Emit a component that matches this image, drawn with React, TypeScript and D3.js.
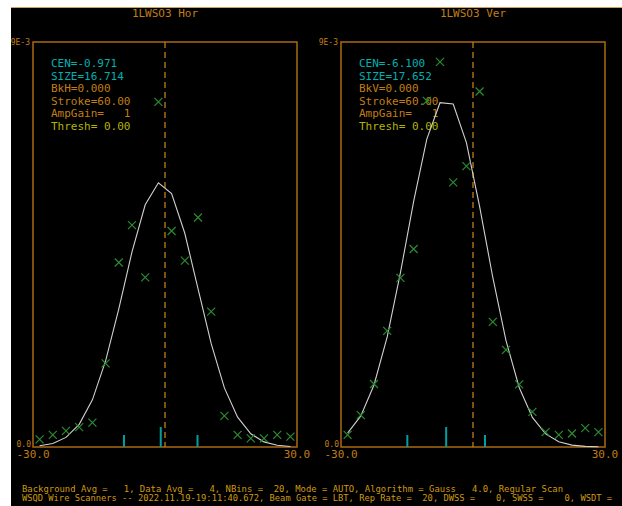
import React, { useEffect, useRef } from "react";
import * as d3 from "d3";

// bin centres, NBins = 20 over -30..30
const binX = [-28.5, -25.5, -22.5, -19.5, -16.5, -13.5, -10.5, -7.5, -4.5, -1.5,
  1.5, 4.5, 7.5, 10.5, 13.5, 16.5, 19.5, 22.5, 25.5, 28.5];

const horCounts = [0.00017, 0.00027, 0.00036, 0.00044, 0.00054, 0.00186, 0.0041, 0.00493, 0.00377, 0.00767,
  0.0048, 0.00414, 0.0051, 0.00301, 0.00069, 0.00027, 0.00019, 0.00019, 0.00027, 0.00023];
const horFit = [0.000026, 0.000079, 0.000213, 0.000504, 0.001047, 0.001913, 0.003072, 0.004337, 0.005383, 0.005873,
  0.005633, 0.00475, 0.003521, 0.002295, 0.001314, 0.000662, 0.000293, 0.000114, 0.000039, 0.000012];

const verCounts = [0.00027, 0.00071, 0.0014, 0.00258, 0.00376, 0.0044, 0.00769, 0.00856, 0.00588, 0.00624,
  0.0079, 0.00278, 0.00216, 0.00139, 0.00078, 0.00033, 0.00027, 0.0003, 0.00042, 0.00033];
const verFit = [0.00031, 0.000692, 0.001378, 0.002447, 0.00387, 0.005451, 0.006842, 0.007651, 0.007622, 0.006764,
  0.005348, 0.003767, 0.002364, 0.001322, 0.000658, 0.000292, 0.000116, 0.000041, 0.000013, 0.000004];

const horStats = ["CEN=-0.971", "SIZE=16.714", "BkH=0.000", "Stroke=60.00", "AmpGain=   1", "Thresh= 0.00"];
const verStats = ["CEN=-6.100", "SIZE=17.652", "BkV=0.000", "Stroke=60.00", "AmpGain=   1", "Thresh= 0.00"];
const horCen = -0.971, horSize = 16.714;
const verCen = -6.1, verSize = 17.652;

const xTicks = ["-30.0", "30.0"];
const yTicks = ["0.0", "9E-3"];

const footer = [
  "Background Avg =   1, Data Avg =   4, NBins =  20, Mode = AUTO, Algorithm = Gauss   4.0, Regular Scan",
  "WSQD Wire Scanners -- 2022.11.19-19:11:40.672, Beam Gate = LBT, Rep Rate =  20, DWSS =    0, SWSS =    0, WSDT =",
];

const ORANGE = "#c07e14";
const FRAME = "#a86a12";
const CYAN = "#00b0b0";
const YELLOW = "#b4b400";
const statColors = [CYAN, CYAN, ORANGE, ORANGE, ORANGE, YELLOW];
const MONO = "'DejaVu Sans Mono', monospace";

export default function App() {
  const node = useRef<SVGSVGElement>(null);

  useEffect(() => {
    const svg = d3.select(node.current);
    svg.selectAll("*").remove();

    svg.append("rect").attr("width", 622).attr("height", 506).attr("fill", "#fff");
    svg.append("rect").attr("x", 11).attr("y", 8).attr("width", 611).attr("height", 498).attr("fill", "#000");
    svg.append("line").attr("x1", 11).attr("x2", 622).attr("y1", 7.5).attr("y2", 7.5)
      .attr("stroke", "#d0a060").attr("stroke-width", 1);

    const panels = [
      { title: "1LWSO3 Hor", left: 33, counts: horCounts, fit: horFit, stats: horStats, cen: horCen, size: horSize },
      { title: "1LWSO3 Ver", left: 341, counts: verCounts, fit: verFit, stats: verStats, cen: verCen, size: verSize },
    ];

    panels.forEach(p => {
      const x = d3.scaleLinear().domain([-30, 30]).range([p.left, p.left + 264]);
      const y = d3.scaleLinear().domain([0, 9e-3]).range([447, 42]);
      const g = svg.append("g");

      g.append("text").attr("x", (x(-30) + x(30)) / 2).attr("y", 17)
        .attr("text-anchor", "middle").attr("fill", ORANGE)
        .attr("font-family", MONO).attr("font-size", 11).text(p.title);

      g.append("rect").attr("x", x(-30)).attr("y", y(9e-3))
        .attr("width", x(30) - x(-30)).attr("height", y(0) - y(9e-3))
        .attr("fill", "none").attr("stroke", FRAME).attr("stroke-width", 1.5);

      // y labels
      g.append("text").attr("x", x(-30) - 3).attr("y", y(9e-3) + 3).attr("text-anchor", "end")
        .attr("fill", ORANGE).attr("font-family", MONO).attr("font-size", 8).text(yTicks[1]);
      g.append("text").attr("x", x(-30) - 2).attr("y", y(0) - 0.5).attr("text-anchor", "end")
        .attr("fill", ORANGE).attr("font-family", MONO).attr("font-size", 8).text(yTicks[0]);

      // x labels
      g.selectAll("text.xt").data([-30, 30]).join("text").attr("class", "xt")
        .attr("x", d => x(d)).attr("y", 458).attr("text-anchor", "middle")
        .attr("fill", ORANGE).attr("font-family", MONO).attr("font-size", 11)
        .text((d, i) => xTicks[i]);

      // dashed zero line
      g.append("line").attr("x1", x(0)).attr("x2", x(0)).attr("y1", y(9e-3)).attr("y2", y(0))
        .attr("stroke", ORANGE).attr("stroke-width", 1.3).attr("stroke-dasharray", "6,4");

      // stats text
      g.selectAll("text.st").data(p.stats).join("text").attr("class", "st")
        .attr("x", p.left + 18).attr("y", (d, i) => 67 + i * 12.6)
        .attr("fill", (d, i) => statColors[i]).attr("font-family", MONO).attr("font-size", 11)
        .style("white-space", "pre").text(d => d);

      // centre and width markers
      const marks = [p.cen - p.size / 2, p.cen, p.cen + p.size / 2];
      g.selectAll("line.cm").data(marks).join("line").attr("class", "cm")
        .attr("x1", d => x(d)).attr("x2", d => x(d))
        .attr("y1", (d, i) => (i === 1 ? 427 : 435)).attr("y2", y(0))
        .attr("stroke", "#00a0a0").attr("stroke-width", 2);

      // fit curve
      const line = d3.line<number>().x((d, i) => x(binX[i])).y(d => y(d));
      g.append("path").attr("d", line(p.fit)).attr("fill", "none")
        .attr("stroke", "#d0d0d0").attr("stroke-width", 1.1);

      // data crosses
      const s = 4;
      g.selectAll("path.pt").data(p.counts).join("path").attr("class", "pt")
        .attr("d", (d, i) => {
          const cx = x(binX[i]), cy = y(d);
          return `M${cx - s},${cy - s}L${cx + s},${cy + s}M${cx - s},${cy + s}L${cx + s},${cy - s}`;
        })
        .attr("stroke", "#2a8c30").attr("stroke-width", 1.2).attr("fill", "none");
    });

    svg.selectAll("text.ft").data(footer).join("text").attr("class", "ft")
      .attr("x", 22).attr("y", (d, i) => 492 + i * 8.5)
      .attr("textLength", (d, i) => (i === 0 ? 541 : 590)).attr("lengthAdjust", "spacingAndGlyphs")
      .attr("fill", "#d09a10").attr("font-family", MONO).attr("font-size", 8.5)
      .style("white-space", "pre").text(d => d);
  }, []);

  return (
    <svg ref={node} width={622} height={506} style={{ position: "absolute", left: 0, top: 0 }} />
  );
}
